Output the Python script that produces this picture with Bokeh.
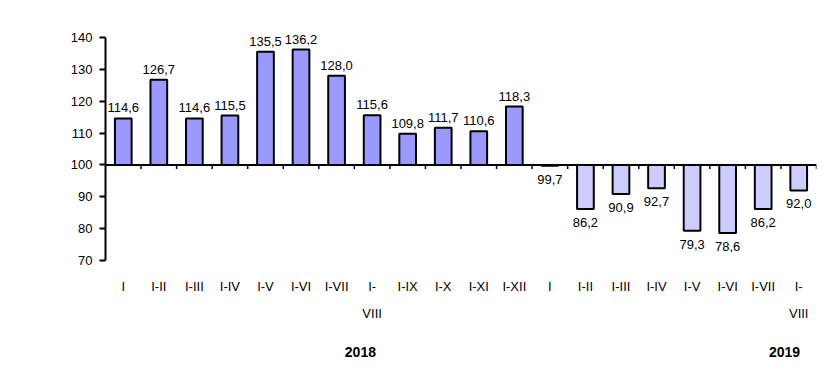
from bokeh.plotting import figure
from bokeh.models import Range1d, FixedTicker, Span, ColumnDataSource, Label
from bokeh.core.properties import value
from bokeh.embed import file_html
from bokeh.resources import INLINE

periods = ["I", "I-II", "I-III", "I-IV", "I-V", "I-VI", "I-VII", "I-\nVIII", "I-IX", "I-X", "I-XI", "I-XII",
           "I", "I-II", "I-III", "I-IV", "I-V", "I-VI", "I-VII", "I-\nVIII"]
years = ["2018"] * 12 + ["2019"] * 8
values = [114.6, 126.7, 114.6, 115.5, 135.5, 136.2, 128.0, 115.6, 109.8, 111.7, 110.6, 118.3,
          99.7, 86.2, 90.9, 92.7, 79.3, 78.6, 86.2, 92.0]
baseline = 100
y_ticks = [70, 80, 90, 100, 110, 120, 130, 140]
year_colors = {"2018": "#9999FF", "2019": "#CCCCFF"}

FONT = "Liberation Sans"
n = len(values)
xs = list(range(n))

p = figure(width=817, height=383, output_backend="svg", toolbar_location=None,
           x_range=Range1d(-0.5, n - 0.5), y_range=Range1d(31.4, 148.46),
           min_border_left=105, min_border_right=1, min_border_top=10, min_border_bottom=0)
p.xaxis.visible = False
p.xgrid.visible = False
p.ygrid.visible = False
p.outline_line_color = None
p.background_fill_color = "white"
p.border_fill_color = "white"

ya = p.yaxis[0]
ya.bounds = (min(y_ticks), max(y_ticks))
ya.ticker = FixedTicker(ticks=y_ticks)
ya.axis_line_width = 2
ya.axis_line_color = "black"
ya.major_tick_line_width = 2
ya.major_tick_out = 6
ya.major_tick_in = 0
ya.minor_tick_line_color = None
ya.major_label_text_font = FONT
ya.major_label_text_font_size = "13px"
ya.major_label_text_color = "black"
ya.major_label_standoff = 7

src = ColumnDataSource(dict(
    x=xs,
    top=[max(v, baseline) for v in values],
    bottom=[min(v, baseline) for v in values],
    color=[year_colors[y] for y in years],
))
p.vbar(x="x", top="top", bottom="bottom", width=0.47, fill_color="color",
       line_color="black", line_width=2, source=src)

p.add_layout(Span(location=baseline, dimension="width", line_color="black", line_width=2))

# category boundary ticks on the baseline
bx = [i + 0.5 for i in xs]
p.segment(x0=bx, x1=bx, y0=[baseline] * n, y1=[baseline - 1.3] * n, line_color="black", line_width=1.5)

lbl = [f"{v:.1f}".replace(".", ",") for v in values]
pos = [i for i, v in enumerate(values) if v >= baseline]
neg = [i for i, v in enumerate(values) if v < baseline]
p.text(x=[xs[i] for i in pos], y=[values[i] for i in pos], text=[lbl[i] for i in pos],
       text_align="center", text_baseline="bottom", y_offset=-6,
       text_font=value(FONT), text_font_size="13px", text_color="black")
p.text(x=[xs[i] for i in neg], y=[values[i] for i in neg], text=[lbl[i] for i in neg],
       text_align="center", text_baseline="top", y_offset=9,
       text_font=value(FONT), text_font_size="13px", text_color="black")

# period labels
p.text(x=xs, y=[64.1] * n, text=periods, text_align="center", text_baseline="top",
       text_line_height=1.75, text_font=value(FONT), text_font_size="13px", text_color="black")

# year labels
for yr, xpos in (("2018", 6.67), ("2019", 18.6)):
    p.add_layout(Label(x=xpos, y=41.3, text=yr, text_align="center", text_baseline="middle",
                       text_font=FONT, text_font_size="14px", text_font_style="bold", text_color="black"))

open("out.html", "w").write(file_html(p, INLINE))
